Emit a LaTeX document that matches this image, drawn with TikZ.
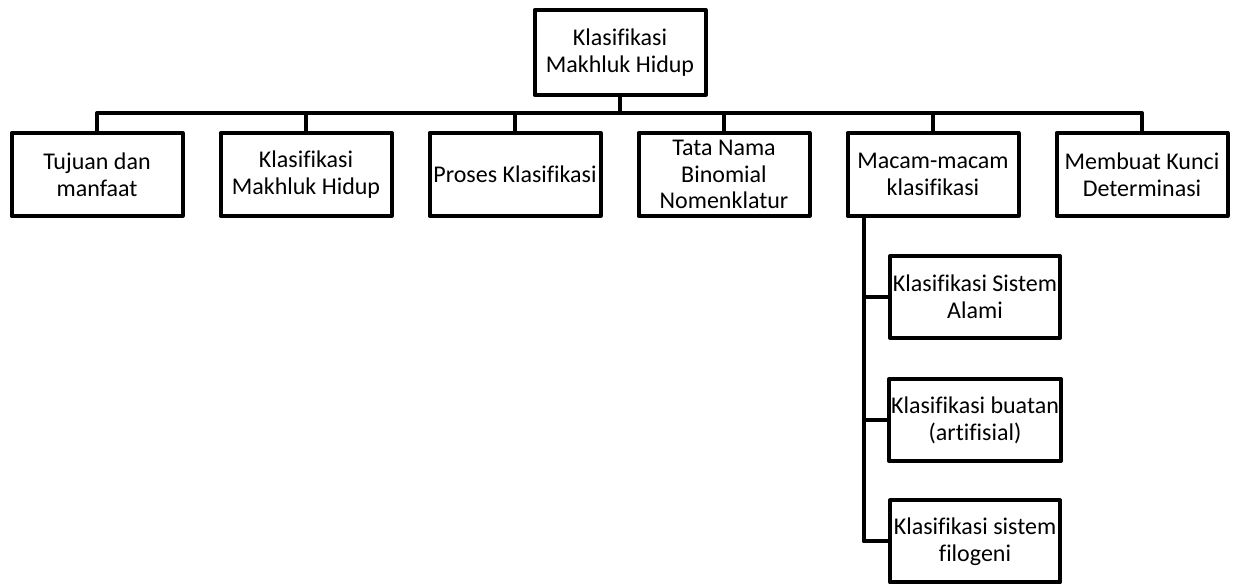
\documentclass[tikz,border=0pt]{standalone}
\usepackage{fontspec}
\setmainfont{Carlito}[Ligatures=NoCommon]
\begin{document}
\begin{tikzpicture}[x=0.5pt, y=0.5pt, line width=2pt, line join=round,
        kotak/.style={draw, rectangle, align=center, inner sep=1pt,
            minimum width=85.5pt, minimum height=41.5pt,
            font=\fontsize{12}{13.4}\selectfont},
        subkotak/.style={kotak, minimum width=85pt, minimum height=41pt}]
        \useasboundingbox (0,0) rectangle (1238,588);

        % Induk
        \node[kotak, minimum height=42.5pt] (induk) at (620, 535.5) {Klasifikasi\\Makhluk Hidup};

        % Cabang
        \node[kotak] (tujuan) at (97, 413.5) {Tujuan dan\\manfaat};
        \node[kotak] (klas) at (306, 413.5) {Klasifikasi\\Makhluk Hidup};
        \node[kotak] (proses) at (515, 413.5) {Proses Klasifikasi};
        \node[kotak] (tata) at (724, 413.5) {Tata Nama\\Binomial\\Nomenklatur};
        \node[kotak] (macam) at (933, 413.5) {Macam-macam\\klasifikasi};
        \node[kotak] (kunci) at (1142, 413.5) {Membuat Kunci\\Determinasi};
        \foreach \c in {tujuan, klas, proses, tata, macam, kunci}
            \draw (induk.south) -- ++(0,-16) -| (\c.north);

        % Macam-macam klasifikasi
        \node[subkotak] (alami) at (975, 291) {Klasifikasi Sistem\\Alami};
        \node[subkotak] (buatan) at (975, 168) {Klasifikasi buatan\\(artifisial)};
        \node[subkotak] (filo) at (975, 46.5) {Klasifikasi sistem\\filogeni};
        \coordinate (batang) at ([xshift=9pt]macam.south west);
        \draw (batang) |- (filo.west);
        \draw (batang |- alami.west) -- (alami.west);
        \draw (batang |- buatan.west) -- (buatan.west);
    \end{tikzpicture}
\end{document}
